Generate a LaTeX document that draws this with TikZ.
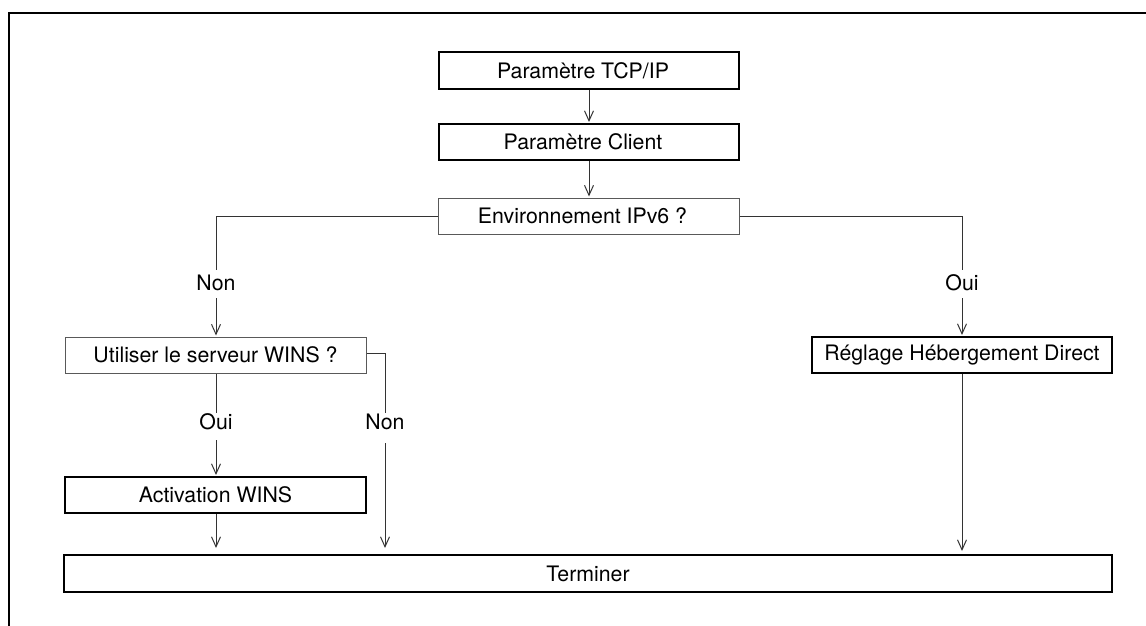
\documentclass[tikz,border=0pt]{standalone}
\usepackage{fontspec}
\setmainfont{TeX Gyre Heros}
\usetikzlibrary{arrows.meta}
\begin{document}
\begin{tikzpicture}[x=1pt,y=-1pt,
  font=\fontsize{21.3}{25}\selectfont,
  pbox/.style={draw=black, line width=2pt, inner sep=0pt, minimum height=36pt},
  dbox/.style={draw=black!65, line width=1pt, inner sep=0pt, minimum height=36pt},
  lbl/.style={inner sep=0pt},
  conn/.style={draw=black!80, line width=1pt},
  arr/.style={conn, -{Straight Barb[length=10pt,width=9pt]}, shorten >=1pt},
  pageframe/.style={line width=2pt}]
\useasboundingbox (0,0) rectangle (1146,626);
\draw[pageframe] (9,626) -- (9,13) -- (1146,13);

\node[pbox, minimum width=300pt, label={[xshift=-6pt]center:Paramètre TCP/IP}] (tcp) at (589,70.5) {};
\node[pbox, minimum width=300pt, label={[xshift=-6pt]center:Paramètre Client}] (client) at (589,142) {};
\node[dbox, minimum width=301pt, label={[xshift=-6pt]center:Environnement IPv6 ?}] (env) at (588.5,216) {};
\node[dbox, minimum width=301pt] (wins) at (215.5,355) {Utiliser le serveur WINS ?};
\node[pbox, minimum width=301pt] (act) at (215.5,495) {Activation WINS};
\node[pbox, minimum width=300pt] (regl) at (962,355) {Réglage Hébergement Direct};
\node[pbox, minimum width=1048pt, minimum height=37pt] (term) at (588,573.5) {Terminer};

\node[lbl] (n1) at (216,283) {Non};
\node[lbl] (o1) at (962,283) {Oui};
\node[lbl] (o2) at (216,422) {Oui};
\node[lbl] (n2) at (385,422) {Non};

\draw[arr] (tcp.south) -- (client.north);
\draw[arr] (client.south) -- (client.south |- env.north);
\draw[conn] (env.west) -| ([yshift=5pt]n1.north);
\draw[arr] ([yshift=-7pt]n1.south) -- (wins.north -| n1);
\draw[conn] (env.east) -| ([yshift=5pt]o1.north);
\draw[arr] ([yshift=-7pt]o1.south) -- (regl.north -| o1);
\draw[conn] (wins.south -| o2) -- ([yshift=1pt]o2.north);
\draw[arr] ([yshift=-10pt]o2.south) -- (act.north -| o2);
\draw[conn] ([yshift=2pt]wins.east) -| ([yshift=1pt]n2.north);
\draw[arr, shorten >=6pt] ([yshift=-13pt]n2.south) -- (term.north -| n2);
\draw[arr, shorten >=6pt] (act.south -| o2) -- (term.north -| o2);
\draw[arr, shorten >=3pt] (regl.south) -- (term.north -| regl);
\end{tikzpicture}
\end{document}
